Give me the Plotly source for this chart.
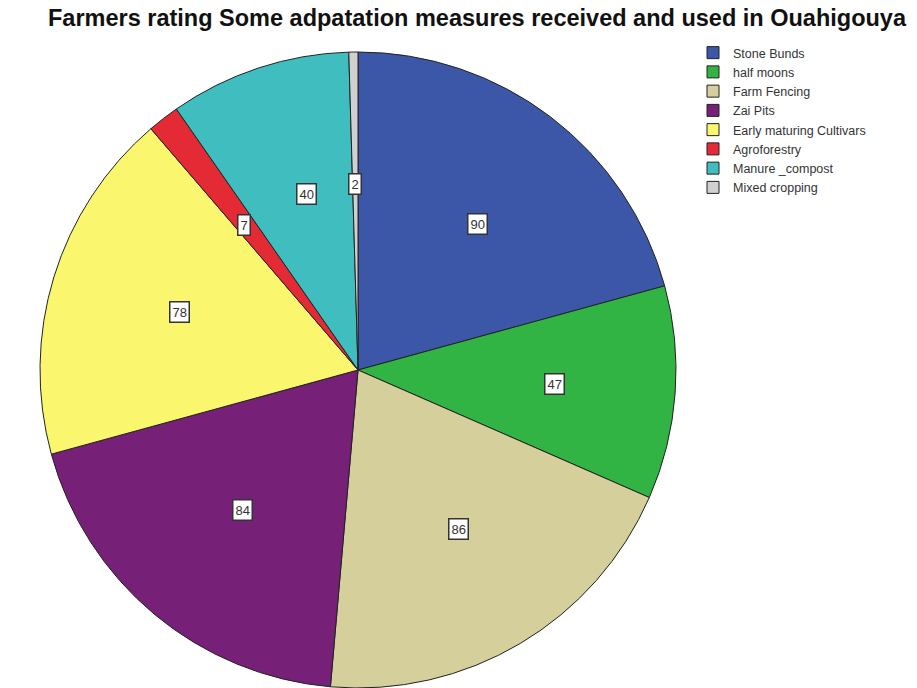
import math
import plotly.graph_objects as go

labels = ["Stone Bunds", "half moons", "Farm Fencing", "Zai Pits",
          "Early maturing Cultivars", "Agroforestry", "Manure _compost", "Mixed cropping"]
values = [90, 47, 86, 84, 78, 7, 40, 2]
colors = ["#3d57a8", "#31b443", "#d4cf9b", "#772077", "#faf66e", "#e32a35", "#40bdbf", "#d0d0d0"]

W, H = 917, 688
cx_px, cy_px, R = 358, 370, 318  # pie centre (from top) and radius in px

fig = go.Figure(go.Pie(
    labels=labels, values=values, sort=False, direction="clockwise", rotation=0,
    marker=dict(colors=colors, line=dict(color="#222222", width=1)),
    textinfo="none", hoverinfo="label+value",
    domain=dict(x=[(cx_px - R) / W, (cx_px + R) / W], y=[(H - cy_px - R) / H, (H - cy_px + R) / H]),
))

total = sum(values)
cum = 0
annotations = []
for v in values:
    mid = (cum + v / 2) / total * 2 * math.pi
    cum += v
    r = 0.62 * R
    x = (cx_px + r * math.sin(mid)) / W
    y = (H - cy_px + r * math.cos(mid)) / H
    annotations.append(dict(x=x, y=y, xref="paper", yref="paper", text=str(v), showarrow=False,
                            font=dict(family="Liberation Sans, Arial", size=13, color="#333333"),
                            bgcolor="white", bordercolor="#333333", borderwidth=1.5, borderpad=2))

fig.update_layout(
    width=W, height=H, margin=dict(l=0, r=0, t=0, b=0),
    paper_bgcolor="white", plot_bgcolor="white",
    title=dict(text="<b>Farmers rating Some adpatation measures received and used in Ouahigouya</b>",
               x=477 / W, xanchor="center", y=1 - 18 / H, yanchor="middle",
               font=dict(family="Liberation Sans, Arial", size=23.5, color="#111111")),
    legend=dict(x=693 / W, y=1 - 38 / H, xanchor="left", yanchor="top",
                font=dict(family="Liberation Sans, Arial", size=12.5, color="#333333"),
                itemwidth=30, tracegroupgap=0, bgcolor="rgba(0,0,0,0)"),
    annotations=annotations,
)

fig.write_html("out.html")
